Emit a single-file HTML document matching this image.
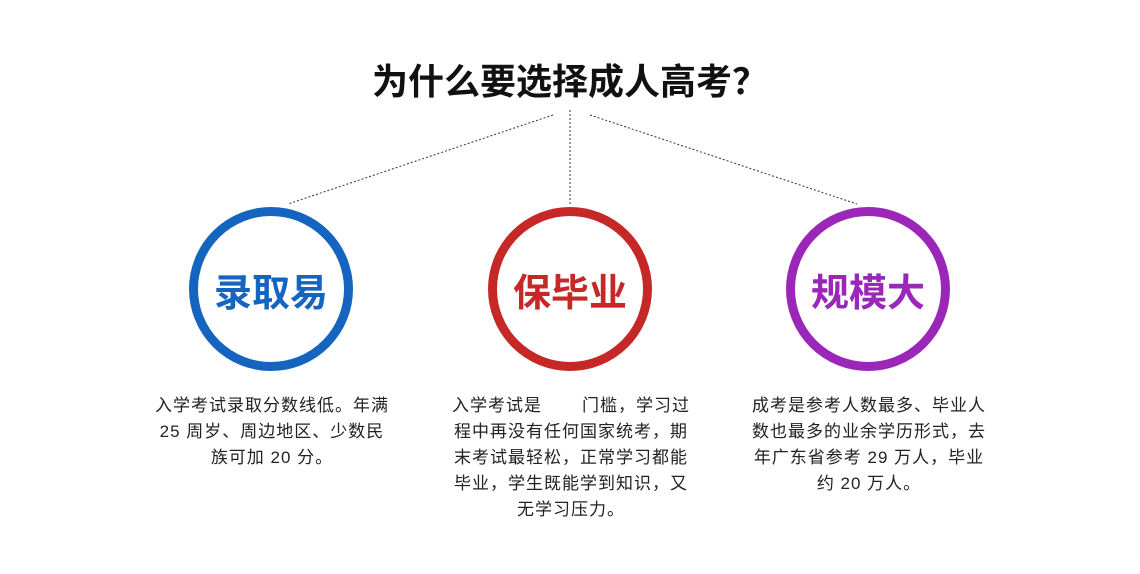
<!DOCTYPE html>
<html><head><meta charset="utf-8"><style>
body{margin:0;width:1140px;height:574px;background:#fff;position:relative;overflow:hidden;font-family:"Liberation Sans","Noto Sans CJK SC",sans-serif;}
.t{position:absolute;left:0;width:1140px;top:54px;text-align:center;font-size:36px;font-weight:bold;color:#111;font-family:"Noto Sans CJK SC",sans-serif;line-height:50px;}
.c{position:absolute;width:146px;height:146px;border-radius:50%;border:9px solid;top:207px;display:flex;align-items:center;justify-content:center;font-size:38px;font-weight:bold;}
.p{position:absolute;top:393px;width:260px;text-align:center;font-size:17px;letter-spacing:1px;line-height:26px;color:#222;}
</style></head><body>
<div class="t">为什么要选择成人高考？</div>
<svg width="1140" height="574" style="position:absolute;left:0;top:0">
<g stroke="#333" stroke-width="1" stroke-dasharray="2,2" fill="none">
<line x1="553" y1="115" x2="288" y2="204"/>
<line x1="570" y1="110" x2="570" y2="204"/>
<line x1="590" y1="115" x2="857" y2="204"/>
</g></svg>
<div class="c" style="left:189px;border-color:#1565c0;color:#1565c0">录取易</div>
<div class="c" style="left:488px;border-color:#c62828;color:#c62828">保毕业</div>
<div class="c" style="left:786px;border-color:#9b27b8;color:#9b27b8">规模大</div>
<div class="p" style="left:142px">入学考试录取分数线低。年满<br>25&nbsp;周岁、周边地区、少数民<br>族可加 20 分。</div>
<div class="p" style="left:441px">入学考试是&nbsp;&nbsp;&nbsp;&nbsp;&nbsp;&nbsp;&nbsp;门槛，学习过<br>程中再没有任何国家统考，期<br>末考试最轻松，正常学习都能<br>毕业，学生既能学到知识，又<br>无学习压力。</div>
<div class="p" style="left:739px">成考是参考人数最多、毕业人<br>数也最多的业余学历形式，去<br>年广东省参考&nbsp;29&nbsp;万人，毕业<br>约 20 万人。</div>
</body></html>
